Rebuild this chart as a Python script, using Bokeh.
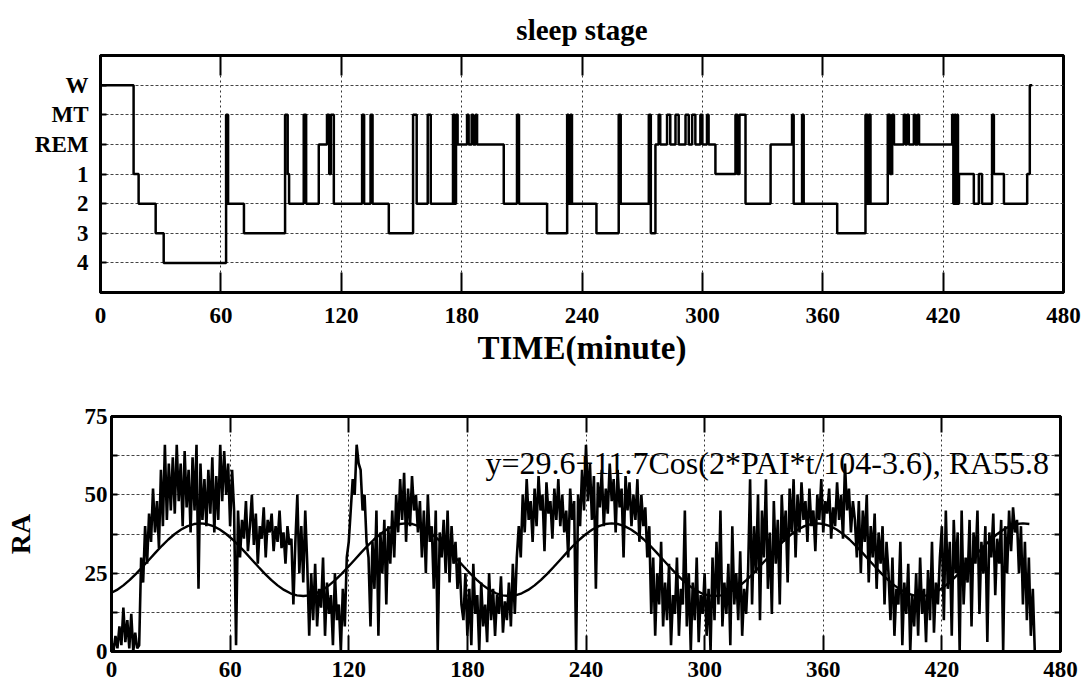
import numpy as np
from bokeh.plotting import figure
from bokeh.layouts import column, row
from bokeh.models import FixedTicker, LinearAxis, Label, Range1d
from bokeh.embed import file_html
from bokeh.resources import INLINE

SERIF = "Liberation Serif"

# ---------------- data ----------------
minute_ticks = [0, 60, 120, 180, 240, 300, 360, 420, 480]

# sleep stage codes: 6=W, 5=MT, 4=REM, 3=stage 1, 2=stage 2, 1=stage 3, 0=stage 4
stage_tick_labels = {6: "W", 5: "MT", 4: "REM", 3: "1", 2: "2", 1: "3", 0: "4"}

stage_minutes = [
    0, 16.5, 19, 27.5, 31.5, 62.6, 63.6, 71.5, 92, 93.3, 94, 101.3, 102.5, 108.8,
    112.9, 114, 114.8, 116.3, 130.4, 131.4, 134.6, 135.6, 143.7, 155.8, 157.6,
    163.1, 164.6, 175.7, 176.5, 177.2, 178, 182.7, 183.5, 185, 185.8, 187, 187.7,
    201, 207.6, 208.6, 222.6, 232.6, 233.3, 234.2, 235, 247.2, 258.3, 259.3,
    273.3, 274.3, 276.6, 278.2, 279, 282.4, 284, 286.6, 288.2, 291.6, 293.2,
    294.9, 296.5, 299, 300, 302.3, 303.1, 306.5, 316.5, 317.5, 318.5, 321.5,
    334, 344.7, 345.5, 349.7, 350.5, 367.2, 381.3, 382.3, 383, 383.8, 392.4,
    393.5, 394.6, 395.5, 400.4, 401.2, 402, 402.9, 405.4, 406.1, 407.3, 408,
    424.5, 425.1, 425.7, 426.3, 426.9, 427.4, 427.9, 435.3, 437.8, 439.4,
    444.4, 445.3, 450.3, 461.9, 463.2, 464.4,
]
stage_codes = [
    6, 3, 2, 1, 0, 5, 2, 1, 5, 3, 2, 5, 2, 4,
    5, 3, 5, 2, 5, 2, 5, 2, 1, 5, 2,
    5, 2, 5, 2, 5, 4, 5, 4, 5, 4, 5, 4,
    2, 5, 2, 1, 5, 2, 5, 2, 1, 5, 2,
    5, 1, 4, 5, 4, 5, 4, 5, 4, 5, 4,
    5, 4, 5, 4, 5, 4, 3, 5, 3, 5, 2,
    4, 5, 2, 5, 2, 1, 5, 2, 5, 2, 5,
    3, 5, 4, 5, 4, 5, 4, 5, 4, 5, 4,
    5, 2, 5, 2, 5, 2, 3, 2, 3, 2,
    5, 3, 2, 3, 6, 6,
]

# RA, one reading per minute starting at minute 0
ra_values = [
    3, 0, 5, 1, 8, 2, 14, 3, 10, 1, 12, 0, 6, 1, 2,
    30, 22, 40, 28, 44,
    35, 52, 38, 48, 33, 58, 40, 66, 42, 60, 45,
    62, 44, 66, 48, 60, 40, 64, 46, 58, 38, 62, 45, 66, 20, 60, 42, 55,
    40, 58, 44, 62, 38, 56, 42, 66, 48, 64, 50, 60, 40, 58, 45, 2,
    45, 30, 42, 36, 48, 32, 40, 50, 34, 44, 28, 40, 36, 46, 30, 42, 38, 44, 32, 40, 35, 45, 33, 38, 28, 40, 34, 36,
    15, 35, 50, 25, 40, 22, 45, 28, 5,
    25, 10, 28, 8, 20, 14, 30, 5, 22, 12, 18, 2, 25, 10, 15, 0, 20, 8, 30,
    35, 45, 55, 50, 66, 60, 58, 45, 50, 35, 30,
    8, 35, 20, 45, 5, 38, 25, 42, 15, 40, 28, 45, 30,
    50, 38, 55, 42, 57, 35, 52, 40, 56, 45, 50, 38,
    48, 30, 45, 25, 50, 35, 40, 20, 45, 0, 38,
    30, 42, 25, 45, 22, 40, 28, 35, 20, 30, 15,
    10, 25, 5, 20, 2, 28, 12, 18, 0, 22, 8, 15, 3, 25, 10, 20, 5, 18, 12, 24, 6, 16, 10, 22, 8, 28, 12, 30,
    40, 30, 50, 38, 55, 42, 48, 35, 52, 40, 56, 45, 50, 32, 54, 44, 48, 36, 52, 42, 55, 40, 50, 38, 45, 30, 52, 42, 48, 0,
    50, 40, 58, 45, 66, 48, 60, 42, 56, 20, 54, 46, 58, 40, 52, 44, 60, 48, 55, 38, 58, 46, 52, 30, 56, 45, 54, 40, 50, 42, 55, 35, 50, 40, 46, 30, 40,
    12, 30, 5, 25, 15, 35, 8, 22, 10, 28, 2, 18, 12, 30, 5, 20, 15, 45, 8, 25, 0, 22, 10, 30, 3, 18, 12,
    25, 5, 20, 0, 30, 10, 35, 15, 45, 8, 22, 12, 28, 2, 40, 15, 25, 10, 32, 5, 20, 12, 26,
    55, 15, 40, 25, 50, 10, 45, 30, 55, 20, 38, 12, 48, 28, 42, 15, 50, 35, 45, 22, 52, 38, 55, 30,
    50, 38, 54, 42, 48, 35, 52, 40, 45, 32, 50, 42, 55, 38, 48, 44, 52, 36, 46, 40, 54, 42, 50, 36, 60, 45, 52, 38, 48,
    42, 30, 48, 25, 45, 35, 50, 22, 40, 30, 44, 20, 38, 28, 40, 15, 35, 25,
    10, 30, 5, 20, 15, 35, 2, 22, 12, 28, 0, 18, 8, 25, 5, 30, 12, 20, 3, 26, 10, 35, 6, 22, 15, 30,
    40, 10, 45, 20, 35, 5, 42, 25, 38, 0, 45, 15, 30, 22, 42, 8, 38, 28, 45, 12, 35, 25, 40, 3, 38, 30, 44, 18, 36, 28, 42, 0, 40, 25, 45, 32, 46,
    38, 42, 25, 40, 15, 35, 10, 30, 5, 20, 0,
]

# fitted cosine curve, read every 3.25 minutes starting at minute -0.5
fit_values = [
    18.58, 19.66, 21.1, 22.85, 24.86, 27.04, 29.3, 31.56, 33.74, 35.75, 37.5, 38.94, 40.02, 40.68, 40.9, 40.68,
    40.02, 38.94, 37.5, 35.75, 33.74, 31.56, 29.3, 27.04, 24.86, 22.85, 21.1, 19.66, 18.58, 17.92, 17.7, 17.92,
    18.58, 19.66, 21.1, 22.85, 24.86, 27.04, 29.3, 31.56, 33.74, 35.75, 37.5, 38.94, 40.02, 40.68, 40.9, 40.68,
    40.02, 38.94, 37.5, 35.75, 33.74, 31.56, 29.3, 27.04, 24.86, 22.85, 21.1, 19.66, 18.58, 17.92, 17.7, 17.92,
    18.58, 19.66, 21.1, 22.85, 24.86, 27.04, 29.3, 31.56, 33.74, 35.75, 37.5, 38.94, 40.02, 40.68, 40.9, 40.68,
    40.02, 38.94, 37.5, 35.75, 33.74, 31.56, 29.3, 27.04, 24.86, 22.85, 21.1, 19.66, 18.58, 17.92, 17.7, 17.92,
    18.58, 19.66, 21.1, 22.85, 24.86, 27.04, 29.3, 31.56, 33.74, 35.75, 37.5, 38.94, 40.02, 40.68, 40.9, 40.68,
    40.02, 38.94, 37.5, 35.75, 33.74, 31.56, 29.3, 27.04, 24.86, 22.85, 21.1, 19.66, 18.58, 17.92, 17.7, 17.92,
    18.58, 19.66, 21.1, 22.85, 24.86, 27.04, 29.3, 31.56, 33.74, 35.75, 37.5, 38.94, 40.02, 40.68, 40.9, 40.68,
]
fit_start_minute = -0.5
fit_step_minutes = 3.25

ra_tick_values = [0, 25, 50, 75]
ra_minor_values = [12.5, 37.5, 62.5]

title_text = "sleep stage"
x_title = "TIME(minute)"
y_title_ra = "RA"
equation_text = "y=29.6+11.7Cos(2*PAI*t/104-3.6), RA55.8"

# ---------------- helpers ----------------
def style_axis(ax, tick_in, font_size="23px"):
    ax.major_tick_in = tick_in
    ax.major_tick_out = 0
    ax.minor_tick_in = 0
    ax.minor_tick_out = 0
    ax.axis_line_color = "black"
    ax.axis_line_width = 3
    ax.major_tick_line_color = "black"
    ax.major_tick_line_width = 2
    ax.major_label_text_font = SERIF
    ax.major_label_text_font_style = "bold"
    ax.major_label_text_font_size = font_size
    ax.major_label_text_color = "black"


def hidden_axis(ticker, tick_in, minor_ticks=False):
    ax = LinearAxis(ticker=ticker)
    ax.major_tick_in = tick_in
    ax.major_tick_out = 0
    ax.minor_tick_in = 6 if minor_ticks else 0
    ax.minor_tick_out = 0
    ax.minor_tick_line_color = "black" if minor_ticks else None
    ax.minor_tick_line_width = 2
    ax.axis_line_color = "black"
    ax.axis_line_width = 3
    ax.major_tick_line_color = "black"
    ax.major_tick_line_width = 2
    ax.major_label_text_font_size = "0px"
    ax.major_label_text_color = None
    ax.major_label_standoff = 0
    return ax

W = 1085

# ---------------- top: hypnogram ----------------
p1 = figure(width=W, height=380, x_range=Range1d(0, 480), y_range=Range1d(-1, 7),
            output_backend="svg", toolbar_location=None, title=title_text,
            min_border_left=100, min_border_right=W - 1063, min_border_top=55, min_border_bottom=88)
p1.background_fill_color = "white"
p1.border_fill_color = "white"
p1.outline_line_color = "black"
p1.outline_line_width = 3

p1.title.text_font = SERIF
p1.title.text_font_size = "29px"
p1.title.text_font_style = "bold"
p1.title.align = "center"
p1.title.text_color = "black"
p1.title.standoff = 19

xt1 = FixedTicker(ticks=minute_ticks)
p1.xaxis.ticker = xt1
style_axis(p1.xaxis[0], 20)
p1.xaxis.major_label_standoff = 15
p1.xaxis.axis_label = x_title
p1.xaxis.axis_label_text_font = SERIF
p1.xaxis.axis_label_text_font_style = "bold"
p1.xaxis.axis_label_text_font_size = "33px"
p1.xaxis.axis_label_text_color = "black"
p1.xaxis.axis_label_standoff = 4

p1.yaxis.ticker = FixedTicker(ticks=sorted(stage_tick_labels.keys()))
p1.yaxis.major_label_overrides = stage_tick_labels
style_axis(p1.yaxis[0], 6)
p1.yaxis.major_label_standoff = 12

p1.add_layout(hidden_axis(FixedTicker(ticks=minute_ticks), 20), "above")

p1.xgrid.grid_line_color = "#333333"
p1.xgrid.grid_line_dash = "2 3"
p1.xgrid.grid_line_width = 1
p1.ygrid.grid_line_color = "#444444"
p1.ygrid.grid_line_dash = "3 2"
p1.ygrid.grid_line_width = 1

p1.step(stage_minutes, stage_codes, mode="after", line_color="black", line_width=2.5)

# ---------------- bottom: RA ----------------
p2 = figure(width=W, height=316, x_range=Range1d(0, 480), y_range=Range1d(0, 75),
            output_backend="svg", toolbar_location=None,
            min_border_left=111, min_border_right=W - 1060, min_border_top=36, min_border_bottom=45)
p2.background_fill_color = "white"
p2.border_fill_color = "white"
p2.outline_line_color = "black"
p2.outline_line_width = 3

xt2 = FixedTicker(ticks=minute_ticks)
p2.xaxis.ticker = xt2
style_axis(p2.xaxis[0], 16)
p2.xaxis.major_label_standoff = 10

yt2 = FixedTicker(ticks=ra_tick_values, minor_ticks=ra_minor_values)
p2.yaxis.ticker = yt2
style_axis(p2.yaxis[0], 6)
p2.yaxis.minor_tick_in = 6
p2.yaxis.minor_tick_line_color = "black"
p2.yaxis.minor_tick_line_width = 2
p2.yaxis.major_label_standoff = 4
p2.yaxis.axis_label = y_title_ra
p2.yaxis.axis_label_text_font = SERIF
p2.yaxis.axis_label_text_font_style = "bold"
p2.yaxis.axis_label_text_font_size = "28px"
p2.yaxis.axis_label_text_color = "black"
p2.yaxis.axis_label_standoff = 46

p2.add_layout(hidden_axis(FixedTicker(ticks=minute_ticks), 16), "above")
p2.add_layout(hidden_axis(FixedTicker(ticks=ra_tick_values, minor_ticks=ra_minor_values), 6, True), "right")

p2.xgrid.grid_line_color = "#333333"
p2.xgrid.grid_line_dash = "2 3"
p2.xgrid.grid_line_width = 1
p2.ygrid.grid_line_color = "#444444"
p2.ygrid.grid_line_dash = "3 2"
p2.ygrid.grid_line_width = 1
p2.ygrid.minor_grid_line_color = "#444444"
p2.ygrid.minor_grid_line_dash = "3 2"
p2.ygrid.minor_grid_line_width = 1

ra_minutes = np.arange(len(ra_values))
fit_minutes = fit_start_minute + fit_step_minutes * np.arange(len(fit_values))

p2.line(ra_minutes, ra_values, line_color="black", line_width=2.6)
p2.line(fit_minutes, fit_values, line_color="black", line_width=2.4)

eq = Label(x=189.2, y=60.2, text=equation_text, text_font=SERIF, text_font_size="32px",
           text_color="black", text_align="left", text_baseline="alphabetic")
p2.add_layout(eq)

layout = column(row(p1), row(p2))
open("out.html", "w").write(file_html(layout, INLINE))
